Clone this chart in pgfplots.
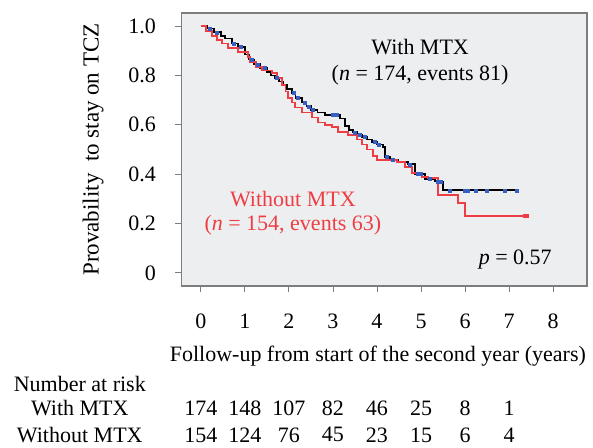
\documentclass[border=0pt]{standalone}
\usepackage{pgfplots}
\pgfplotsset{compat=1.18}
\usepackage{fontspec}
\setmainfont{Liberation Serif}
\definecolor{kmred}{RGB}{238,62,68}
\definecolor{kmblue}{RGB}{55,95,195}
\definecolor{bgc}{RGB}{237,238,240}
\definecolor{boxc}{RGB}{125,125,125}
\begin{document}
\begin{tikzpicture}[font=\fontsize{22bp}{26bp}\selectfont]
\useasboundingbox (0,0) rectangle (593bp,-448bp);
\begin{axis}[
  at={(181.5bp,-286bp)}, anchor=south west,
  scale only axis, width=405.5bp, height=273bp,
  xmin=-0.44, xmax=8.77, ymin=-0.053, ymax=1.053,
  axis background/.style={fill=bgc},
  axis line style={boxc, line width=1.4pt},
  xtick={0,1,2,3,4,5,6,7,8},
  ytick={0,0.2,0.4,0.6,0.8,1.0},
  yticklabels={0,0.2,0.4,0.6,0.8,1.0},
  tick align=outside, tick style={boxc, line width=0.9pt}, major tick length=6bp,
  xtick pos=bottom, ytick pos=left,
  /pgf/number format/assume math mode=true,
  xticklabel style={anchor=center, yshift=-29bp},
  yticklabel style={anchor=east, xshift=-16bp},
  clip=false,
]
\addplot[black, line width=1.7pt, const plot] coordinates {
(0,1.0) (0.15,0.99) (0.3,0.975) (0.45,0.96) (0.55,0.95) (0.7,0.93) (0.85,0.915)
(1.0,0.885) (1.1,0.865) (1.2,0.845) (1.35,0.83) (1.5,0.815) (1.6,0.80) (1.68,0.79)
(1.78,0.775) (1.86,0.76) (1.95,0.745) (2.07,0.73) (2.15,0.71) (2.3,0.69) (2.4,0.675)
(2.5,0.66) (2.65,0.65) (2.82,0.64) (3.16,0.625) (3.27,0.595) (3.36,0.58) (3.45,0.57)
(3.55,0.56) (3.66,0.55) (3.78,0.54) (3.89,0.53) (4.0,0.52) (4.14,0.51) (4.18,0.47)
(4.3,0.46) (4.48,0.45) (4.7,0.44) (4.86,0.40) (5.09,0.38) (5.32,0.37) (5.5,0.335)
(7.18,0.335)};
\addplot[kmred, line width=1.7pt, const plot] coordinates {
(0,1.0) (0.12,0.98) (0.25,0.96) (0.36,0.945) (0.48,0.93) (0.61,0.91) (0.84,0.895)
(1.07,0.875) (1.11,0.855) (1.25,0.835) (1.39,0.82) (1.61,0.81) (1.73,0.79) (1.84,0.76)
(1.92,0.735) (1.98,0.71) (2.07,0.69) (2.14,0.67) (2.3,0.65) (2.52,0.63) (2.66,0.61)
(2.82,0.60) (2.98,0.59) (3.11,0.57) (3.34,0.56) (3.55,0.54) (3.66,0.52) (3.77,0.50)
(3.91,0.475) (4.0,0.457) (4.45,0.45) (4.64,0.43) (4.8,0.405) (5.02,0.39) (5.16,0.385)
(5.39,0.316) (5.84,0.283) (6.0,0.23) (7.41,0.23)};
\addplot[only marks, mark=square*, mark size=1.5pt, kmblue, mark options={draw=kmblue, fill=kmblue}] coordinates {
(0.2,0.99) (0.35,0.975) (0.75,0.93) (0.9,0.915) (1.15,0.865) (1.3,0.845) (1.45,0.83)
(1.72,0.79) (2.1,0.73) (2.2,0.71) (2.35,0.69) (2.45,0.675) (2.55,0.66) (3.0,0.64)
(3.08,0.64) (3.5,0.57) (3.6,0.56) (3.72,0.55) (3.95,0.53) (4.05,0.52) (4.22,0.47)
(4.35,0.46) (4.75,0.44) (4.92,0.40) (5.0,0.40) (5.2,0.38) (5.38,0.37) (5.45,0.37)
(5.66,0.335) (6.0,0.335) (6.07,0.335) (6.25,0.335) (6.5,0.335) (6.91,0.335) (7.18,0.335)};
\addplot[only marks, mark=square*, mark size=1.5pt, kmred, mark options={draw=kmred, fill=kmred}] coordinates {
(7.35,0.23) (7.41,0.23)};
% annotations
\node at (axis cs:4.98,0.915) {With MTX};
\node at (axis cs:4.98,0.80) {(\textit{n} = 174, events 81)};
\node[text=kmred] at (axis cs:2.09,0.30) {Without MTX};
\node[text=kmred] at (axis cs:2.09,0.194) {(\textit{n} = 154, events 63)};
\node at (axis cs:7.14,0.053) {\textit{p} = 0.57};
% axis labels
\node[rotate=90, font=\fontsize{23bp}{27bp}\selectfont] at (axis cs:-2.45,0.5) {Provability\ \ to stay on TCZ};
\node at (axis cs:4.02,-0.336) {Follow-up from start of the second year (years)};
% number at risk table
\node at (axis cs:-2.75,-0.449) {Number at risk};
\node at (axis cs:-2.75,-0.547) {With MTX};
\node at (axis cs:-2.75,-0.656) {Without MTX};
\node at (axis cs:0,-0.547) {174};
\node at (axis cs:1,-0.547) {148};
\node at (axis cs:2,-0.547) {107};
\node at (axis cs:3,-0.547) {82};
\node at (axis cs:4,-0.547) {46};
\node at (axis cs:5,-0.547) {25};
\node at (axis cs:6,-0.547) {8};
\node at (axis cs:7,-0.547) {1};
\node at (axis cs:0,-0.656) {154};
\node at (axis cs:1,-0.656) {124};
\node at (axis cs:2,-0.656) {76};
\node at (axis cs:3,-0.656) {45};
\node at (axis cs:4,-0.656) {23};
\node at (axis cs:5,-0.656) {15};
\node at (axis cs:6,-0.656) {6};
\node at (axis cs:7,-0.656) {4};
\end{axis}
\end{tikzpicture}
\end{document}
